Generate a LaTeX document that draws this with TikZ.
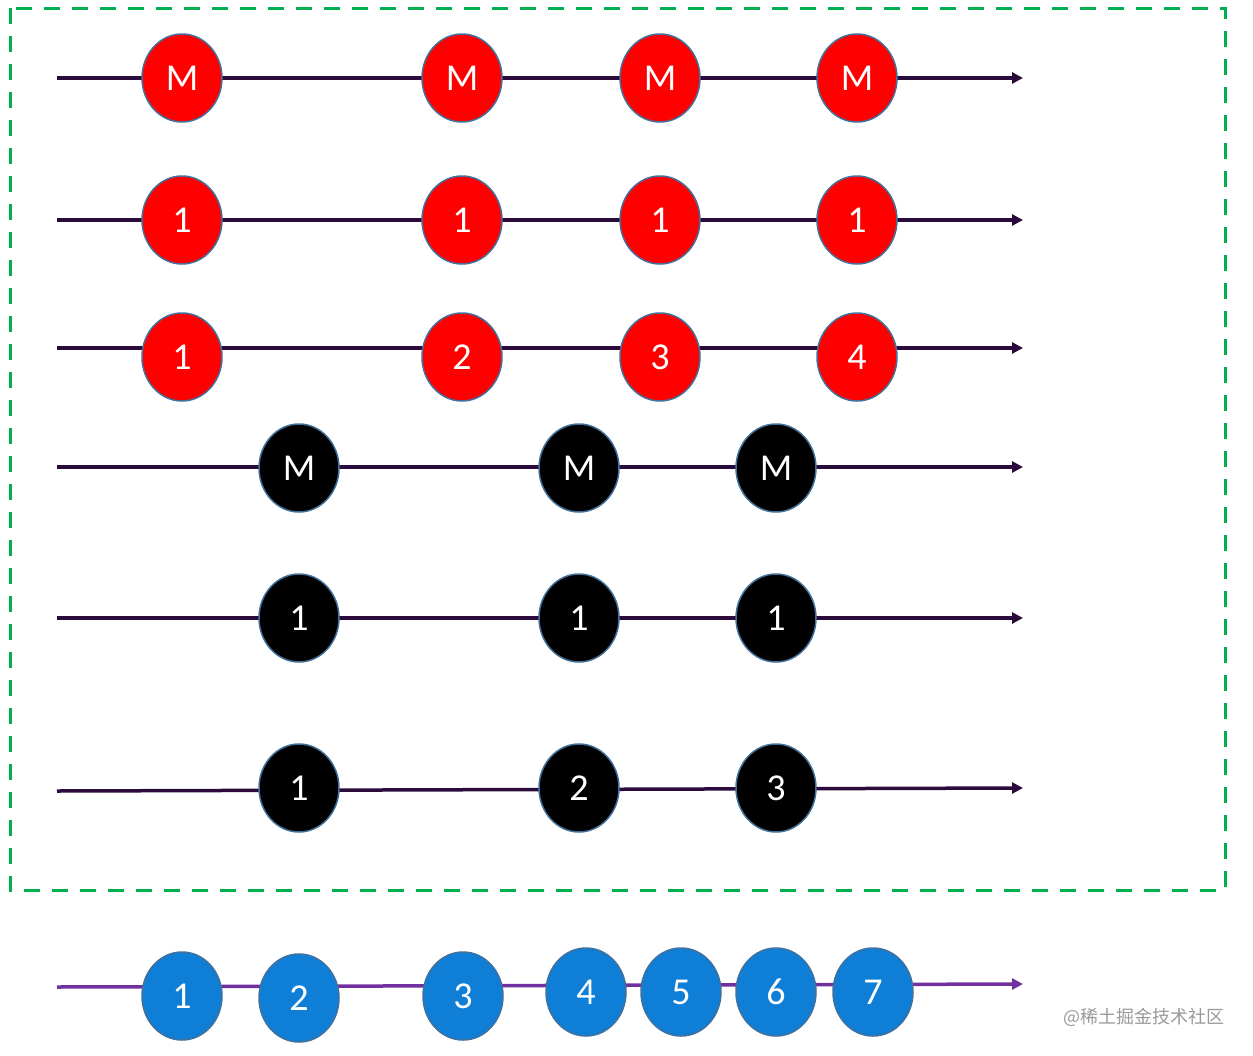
\documentclass[tikz,border=0pt]{standalone}
\usepackage{fontspec}
\setmainfont{Carlito}
\newfontfamily\cjk{Noto Sans CJK SC}
\usetikzlibrary{shapes.geometric,arrows.meta}
\definecolor{frameg}{HTML}{00B050}
\definecolor{linec}{HTML}{2A0B3C}
\definecolor{purp}{HTML}{7030A0}
\definecolor{bluef}{HTML}{0E7ED6}
\definecolor{edgec}{HTML}{41719C}
\tikzset{
  ball/.style={ellipse, minimum width=80pt, minimum height=88pt, inner sep=0pt, draw=edgec, line width=1.5pt, text=white, font=\fontsize{38}{44}\selectfont},
  redball/.style={ball, fill=red},
  blackball/.style={ball, fill=black},
  blueball/.style={ball, fill=bluef},
  tl/.style={draw=linec, line width=3.5pt, -{Triangle[length=11pt,width=11pt]}},
  pl/.style={draw=purp, line width=3.5pt, -{Triangle[length=11pt,width=11pt]}},
}
\begin{document}
\begin{tikzpicture}[x=1pt,y=-1pt]
\useasboundingbox (0,0) rectangle (1253,1055);
\draw[frameg, line width=3pt, dash pattern=on 16pt off 12pt] (10,8) rectangle (1225,890);
% row lines
\foreach \n/\y in {a/78,b/220,c/348,d/467,e/618}{
  \coordinate (\n s) at (57,\y);
  \coordinate (\n e) at (1023,\y);
  \draw[tl] (\n s) -- (\n e);
}
\coordinate (fs) at (57,791);
\coordinate (fe) at (1023,788);
\draw[tl] (fs) -- (fe);
\coordinate (gs) at (57,987);
\coordinate (ge) at (1023,984);
\draw[pl] (gs) -- (ge);
% red rows
\node[redball] (a1) at (182,78) {M};
\node[redball] (a2) at (462,78) {M};
\node[redball] (a3) at (660,78) {M};
\node[redball] (a4) at (857,78) {M};
\node[redball] (b1) at (182,220) {1};
\node[redball] (b2) at (462,220) {1};
\node[redball] (b3) at (660,220) {1};
\node[redball] (b4) at (857,220) {1};
\node[redball] (c1) at (182,357) {1};
\node[redball] (c2) at (462,357) {2};
\node[redball] (c3) at (660,357) {3};
\node[redball] (c4) at (857,357) {4};
% black rows
\node[blackball] (d1) at (299,468) {M};
\node[blackball] (d2) at (579,468) {M};
\node[blackball] (d3) at (776,468) {M};
\node[blackball] (e1) at (299,618) {1};
\node[blackball] (e2) at (579,618) {1};
\node[blackball] (e3) at (776,618) {1};
\node[blackball] (f1) at (299,788) {1};
\node[blackball] (f2) at (579,788) {2};
\node[blackball] (f3) at (776,788) {3};
% blue row
\node[blueball] (g1) at (182,996) {1};
\node[blueball] (g2) at (299,998) {2};
\node[blueball] (g3) at (463,996) {3};
\node[blueball] (g4) at (586,992) {4};
\node[blueball] (g5) at (681,992) {5};
\node[blueball] (g6) at (776,992) {6};
\node[blueball] (g7) at (873,992) {7};
% watermark
\node[anchor=east, text=black!40, font=\cjk\fontsize{18}{22}\selectfont, inner sep=0pt] (wm) at (1225,1017) {@稀土掘金技术社区};
\end{tikzpicture}
\end{document}
